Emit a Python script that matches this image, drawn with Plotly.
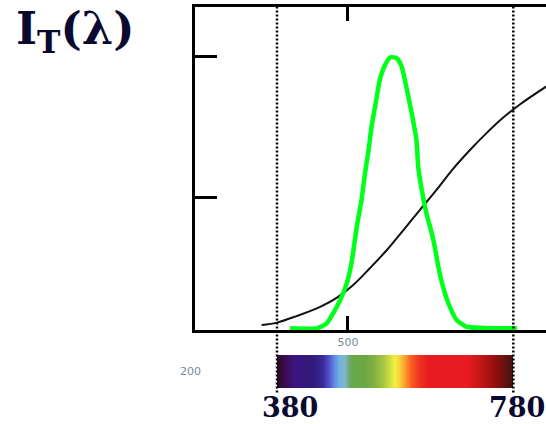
import plotly.graph_objects as go
import numpy as np

# ---- data ----
# black curve (wavelength nm, relative intensity)
black_nm = [354, 380, 413, 453, 481, 509, 537, 566, 594, 622, 650, 678, 707, 735, 763, 791, 836]
black_val = [0.018, 0.027, 0.051, 0.085, 0.118, 0.165, 0.226, 0.293, 0.366, 0.440, 0.513, 0.590,
             0.660, 0.722, 0.778, 0.826, 0.892]

# green curve (wavelength nm, relative intensity)
green_nm = [402, 447, 464, 475, 487, 498, 506, 515, 523, 529, 535, 540, 546, 554, 563, 572, 583,
            591, 600, 608, 616, 619, 625, 633, 642, 647, 653, 661, 670, 684, 701, 786]
green_val = [0.006, 0.006, 0.024, 0.061, 0.110, 0.171, 0.244, 0.378, 0.476, 0.574, 0.659, 0.745,
             0.818, 0.916, 0.971, 0.999, 0.995, 0.965, 0.879, 0.794, 0.696, 0.598, 0.513, 0.427,
             0.354, 0.305, 0.232, 0.159, 0.098, 0.037, 0.012, 0.006]

# visible spectrum bar colours
spectrum_nm = [380, 390, 410, 439, 458, 468, 476, 485, 495, 502, 507, 529, 544, 561, 573, 580,
               588, 597, 607, 622, 636, 703, 722, 744, 764, 780]
spectrum_col = ['#201018', '#3a0a48', '#3c1480', '#301878', '#3a2a98', '#5050c8', '#6080e0',
                '#70b0e8', '#80b8c8', '#70a880', '#68a848', '#6aa845', '#80b040', '#a8c840',
                '#d8e040', '#f0f040', '#f8d038', '#f8a030', '#f86020', '#f03020', '#e81c20',
                '#e81c20', '#c81818', '#a01010', '#701010', '#401010']

marker_nm = [380, 780]
marker_labels = ['380', '780']
x_tickvals = [500]
x_ticktext = ['500']
y_tickvals = [0.487, 1.0]
bar_side_label = '200'
title_text = 'I<sub>T</sub>(λ)'

# ---- figure ----
fig = go.Figure()

lo, hi = spectrum_nm[0], spectrum_nm[-1]
colorscale = [[(w - lo) / (hi - lo), c] for w, c in zip(spectrum_nm, spectrum_col)]
edges = np.linspace(lo, hi, 401)
centers = (edges[:-1] + edges[1:]) / 2
fig.add_trace(go.Heatmap(
    x=edges, y=[0, 1], z=[centers], xaxis='x', yaxis='y2',
    colorscale=colorscale, zmin=lo, zmax=hi, showscale=False, hoverinfo='skip'))

fig.add_trace(go.Scatter(x=black_nm, y=black_val, mode='lines',
                         line=dict(color='#111111', width=2, shape='spline', smoothing=1.0),
                         showlegend=False, hoverinfo='skip'))
fig.add_trace(go.Scatter(x=green_nm, y=green_val, mode='lines',
                         line=dict(color='#00ff1a', width=4.5, shape='spline', smoothing=0.5),
                         showlegend=False, hoverinfo='skip'))

for w in marker_nm:
    fig.add_shape(type='line', xref='x', yref='paper', x0=w, x1=w, y0=-0.012, y1=1,
                  line=dict(color='#000000', width=2.5, dash='2px,2px'), layer='above')

fig.add_annotation(text=title_text, xref='paper', yref='paper', x=-0.515, y=1.018,
                   xanchor='left', yanchor='top', showarrow=False,
                   font=dict(family='DejaVu Serif', size=45, color='#0a0a30', weight='bold'))
for w, lab, sh in zip(marker_nm, marker_labels, [13, 4]):
    fig.add_annotation(text=lab, xref='x', yref='paper', x=w, y=-0.052, xshift=sh,
                       xanchor='center', yanchor='middle', showarrow=False,
                       font=dict(family='DejaVu Serif', size=27, color='#0a0a30', weight='bold'))
fig.add_annotation(text=bar_side_label, xref='paper', yref='paper', x=-0.0114, y=0.0433,
                   xanchor='center', yanchor='middle', showarrow=False,
                   font=dict(family='DejaVu Sans', size=11, color='#778899'))

fig.update_layout(
    width=546, height=424,
    margin=dict(l=195, r=0, t=7, b=36),
    paper_bgcolor='white', plot_bgcolor='white',
    showlegend=False,
    xaxis=dict(range=[241.2, 835.3], showgrid=False, zeroline=False,
               showline=True, linecolor='black', linewidth=3, mirror='ticks',
               ticks='inside', ticklen=14, tickwidth=3, tickcolor='black',
               tickvals=x_tickvals, ticktext=x_ticktext,
               tickfont=dict(family='DejaVu Sans', size=11, color='#778899'),
               anchor='y', layer='below traces'),
    yaxis=dict(domain=[0.1522, 1], range=[0, 1.183], showgrid=False, zeroline=False,
               showline=True, linecolor='black', linewidth=3, mirror=False,
               ticks='inside', ticklen=22, tickwidth=3, tickcolor='black',
               tickvals=y_tickvals, showticklabels=False, layer='below traces'),
    yaxis2=dict(domain=[0, 0.0866], range=[0, 1], visible=False, showgrid=False,
                zeroline=False),
)

fig.write_html('out.html', config={'displayModeBar': False},
               post_script="document.body.style.margin='0';document.body.style.overflow='hidden';")
